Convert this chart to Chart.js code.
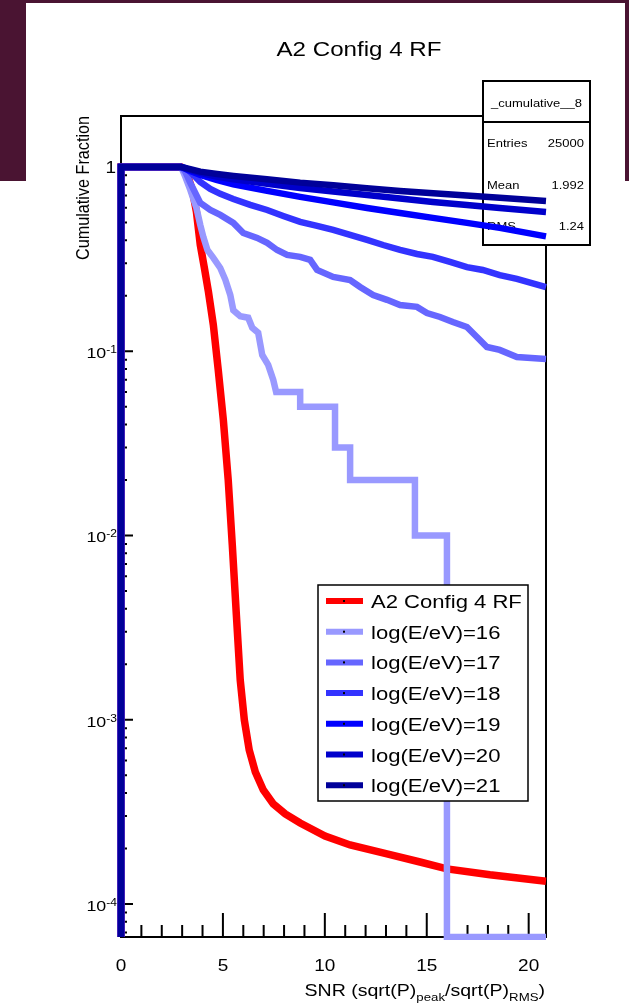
<!DOCTYPE html>
<html>
<head>
<meta charset="utf-8">
<title>A2 Config 4 RF</title>
<script src="https://cdn.jsdelivr.net/npm/chart.js@4.4.1/dist/chart.umd.min.js"></script>
<style>
  html, body { margin: 0; padding: 0; background: #fff; }
  #wrap { position: relative; width: 629px; height: 1006px; }
</style>
</head>
<body>
<div id="wrap"><canvas id="snrChart"></canvas></div>
<script>
// cumulative fraction of events above a given SNR
// (a 0 means an empty bin; it sits on the bottom edge of the log axis)

const snrRF  = [0, 0, 2.95, 3.21, 3.50, 3.70, 3.89, 4.09, 4.29, 4.53, 4.77, 5.02, 5.26, 5.46, 5.66, 5.85, 6.05, 6.29, 6.59, 6.98, 7.47, 8.06, 8.79, 10.01, 11.24, 13.05, 14.67, 15.99, 18.10, 20.85];
const fracRF = [0, 1, 1, 0.939, 0.750, 0.570, 0.377, 0.283, 0.210, 0.1388, 0.0791, 0.0424, 0.0200, 0.00888, 0.00370, 0.00164, 0.000997, 0.000685, 0.000520, 0.000416, 0.000349, 0.000308, 0.000275, 0.000234, 0.000209, 0.000187, 0.000169, 0.000155, 0.000144, 0.000133];

const snr16  = [0, 0, 2.95, 3.16, 3.40, 3.70, 3.89, 4.04, 4.24, 4.53, 4.87, 5.12, 5.36, 5.51, 5.85, 6.24, 6.44, 6.73, 6.93, 7.22, 7.47, 7.61, 8.79, 8.79, 10.50, 10.50, 11.24, 11.24, 14.42, 14.42, 15.99, 15.99, 20.85];
const frac16 = [0, 1, 1, 0.882, 0.750, 0.599, 0.484, 0.417, 0.354, 0.321, 0.283, 0.244, 0.202, 0.167, 0.155, 0.152, 0.134, 0.126, 0.0954, 0.0842, 0.0698, 0.06, 0.06, 0.05, 0.05, 0.03, 0.03, 0.02, 0.02, 0.01, 0.01, 0, 0];

const snr17  = [0, 0, 2.95, 3.16, 3.40, 3.89, 4.38, 4.87, 5.51, 6.00, 6.68, 7.17, 7.66, 8.15, 8.79, 9.28, 9.62, 10.41, 11.24, 11.73, 12.37, 13.05, 13.69, 14.52, 15.01, 15.65, 16.28, 16.97, 17.46, 17.95, 18.58, 19.42, 20.85];
const frac17 = [0, 1, 1, 0.939, 0.819, 0.638, 0.584, 0.549, 0.497, 0.438, 0.412, 0.387, 0.354, 0.333, 0.325, 0.313, 0.276, 0.253, 0.2435, 0.223, 0.202, 0.190, 0.178, 0.174, 0.161, 0.1534, 0.1441, 0.1354, 0.1195, 0.1054, 0.1016, 0.0931, 0.0908];

const snr18  = [0, 0, 2.95, 3.16, 3.40, 3.65, 3.89, 4.38, 4.87, 5.51, 6.34, 7.17, 7.96, 8.79, 9.62, 10.41, 11.24, 12.07, 12.86, 13.69, 14.52, 15.30, 16.14, 16.97, 17.75, 18.58, 19.42, 20.85];
const frac18 = [0, 1, 1, 0.988, 0.939, 0.882, 0.829, 0.760, 0.714, 0.670, 0.622, 0.584, 0.542, 0.503, 0.479, 0.455, 0.428, 0.402, 0.377, 0.355, 0.337, 0.325, 0.305, 0.286, 0.276, 0.259, 0.247, 0.223];

const snr19  = [0, 0, 2.95, 3.40, 3.89, 4.68, 5.51, 7.17, 8.79, 10.41, 12.07, 13.69, 15.30, 16.97, 18.58, 20.85];
const frac19 = [0, 1, 1, 0.951, 0.905, 0.850, 0.804, 0.741, 0.688, 0.642, 0.599, 0.563, 0.529, 0.497, 0.467, 0.420];

const snr20  = [0, 0, 2.95, 3.40, 3.89, 4.68, 5.51, 7.17, 8.79, 10.41, 12.07, 13.69, 15.30, 16.97, 18.58, 20.85];
const frac20 = [0, 1, 1, 0.963, 0.928, 0.888, 0.856, 0.809, 0.769, 0.736, 0.705, 0.675, 0.646, 0.622, 0.599, 0.570];

const snr21  = [0, 0, 2.95, 3.40, 3.89, 4.71, 5.52, 7.16, 8.79, 10.42, 12.06, 13.69, 15.32, 16.95, 18.58, 20.85];
const frac21 = [0, 1, 1, 0.972, 0.943, 0.916, 0.894, 0.858, 0.822, 0.796, 0.766, 0.741, 0.720, 0.699, 0.681, 0.654];

const seriesNames  = ['A2 Config 4 RF', 'log(E/eV)=16', 'log(E/eV)=17', 'log(E/eV)=18', 'log(E/eV)=19', 'log(E/eV)=20', 'log(E/eV)=21'];
const seriesColors = ['#ff0000', '#9999ff', '#6666ff', '#3333ff', '#0000ff', '#0000cc', '#000099'];
const seriesX = [snrRF, snr16, snr17, snr18, snr19, snr20, snr21];
const seriesY = [fracRF, frac16, frac17, frac18, frac19, frac20, frac21];

const xMajorTicks = [0, 5, 10, 15, 20];
const yDecades = [0, -1, -2, -3, -4];

const statsName = '_cumulative__8';
const statsRows = [['Entries', '25000'], ['Mean', '1.992'], ['RMS', '1.24']];

const X_MIN = 0, X_MAX = 20.85;
const Y_MIN = 6.62e-5, Y_MAX = 1.89;

const SX = 1.15; // text is drawn slightly wide
const FONT = '"Liberation Sans", Arial, Helvetica, sans-serif';

function textW(ctx, text, size) {
    ctx.font = size + 'px ' + FONT;
    return ctx.measureText(text).width * SX;
}

function drawText(ctx, text, x, y, size, align) {
    ctx.save();
    ctx.font = size + 'px ' + FONT;
    var w = ctx.measureText(text).width * SX;
    var left = x;
    if (align === 'right') left = x - w;
    if (align === 'center') left = x - w / 2;
    ctx.translate(left, y);
    ctx.scale(SX, 1);
    ctx.textAlign = 'left';
    ctx.textBaseline = 'alphabetic';
    ctx.fillStyle = '#000';
    ctx.fillText(text, 0, 0);
    ctx.restore();
    return w;
}

function toPoints(xs, ys) {
    // empty bins go to the floor of the log axis
    return xs.map((x, i) => ({ x: x, y: ys[i] > 0 ? ys[i] : Y_MIN }));
}

var datasets = [];
for (var i = 0; i < seriesNames.length; i++) {
    datasets.push({
        label: seriesNames[i],
        data: toPoints(seriesX[i], seriesY[i]),
        borderColor: seriesColors[i],
        backgroundColor: seriesColors[i],
        borderWidth: i === 0 ? 7.5 : 6.5,
        borderJoinStyle: 'miter',
        borderCapStyle: 'butt',
        pointRadius: 0,
        tension: 0,
        fill: false,
        order: seriesNames.length - i,
        clip: { left: 5, top: 5, right: 1, bottom: 3 }
    });
}

// page background, frame, ticks, labels, stats box
const frameDecor = {
    id: 'frameDecor',
    beforeDraw(chart) {
        const ctx = chart.ctx;
        ctx.save();
        ctx.fillStyle = '#ffffff';
        ctx.fillRect(0, 0, chart.width, chart.height);
        ctx.fillStyle = '#4a1432';
        ctx.fillRect(0, 0, chart.width, 3);
        ctx.fillRect(0, 0, 26, 181);
        ctx.fillRect(625, 0, chart.width - 625, 181);
        ctx.restore();
    },
    beforeDatasetsDraw(chart) {
        const ctx = chart.ctx;
        const ca = chart.chartArea;
        const xs = chart.scales.x, ys = chart.scales.y;
        ctx.save();

        // title
        drawText(ctx, 'A2 Config 4 RF', 359, 56, 21, 'center');

        // frame
        ctx.strokeStyle = '#000';
        ctx.lineWidth = 2;
        ctx.strokeRect(ca.left, ca.top, ca.right - ca.left, ca.bottom - ca.top);

        // x ticks, pointing up into the frame
        ctx.beginPath();
        for (var v = 0; v <= Math.floor(X_MAX); v++) {
            var px = xs.getPixelForValue(v);
            var len = (v % 5 === 0) ? 24 : 12;
            ctx.moveTo(px, ca.bottom);
            ctx.lineTo(px, ca.bottom - len);
        }
        // y ticks, pointing right into the frame
        for (var d = -5; d <= 0; d++) {
            for (var k = 1; k <= 9; k++) {
                var val = k * Math.pow(10, d);
                if (val < Y_MIN || val > Y_MAX) continue;
                var py = ys.getPixelForValue(val);
                ctx.moveTo(ca.left, py);
                ctx.lineTo(ca.left + (k === 1 ? 12 : 6), py);
            }
        }
        ctx.stroke();

        // x tick labels
        xMajorTicks.forEach(function (t) {
            drawText(ctx, String(t), xs.getPixelForValue(t), 971, 16.5, 'center');
        });

        // y tick labels as powers of ten
        yDecades.forEach(function (e) {
            var py = ys.getPixelForValue(Math.pow(10, e));
            if (e === 0) {
                drawText(ctx, '1', 116, py + 6, 16.5, 'right');
            } else {
                var sw = drawText(ctx, String(e), 117, py + 2, 10.5, 'right');
                drawText(ctx, '10', 117 - sw, py + 7, 15.5, 'right');
            }
        });

        // x axis title with subscripts
        var parts = [['SNR (sqrt(P)', 17, 0], ['peak', 11.5, 5], ['/sqrt(P)', 17, 0], ['RMS', 11.5, 5], [')', 17, 0]];
        var total = 0;
        parts.forEach(function (p) { total += textW(ctx, p[0], p[1]); });
        var cx = 545 - total;
        parts.forEach(function (p) {
            cx += drawText(ctx, p[0], cx, 996 + p[2], p[1], 'left');
        });

        // y axis title, rotated
        ctx.save();
        ctx.translate(89, 116);
        ctx.rotate(-Math.PI / 2);
        ctx.scale(1, SX);
        ctx.font = '16.2px ' + FONT;
        ctx.textAlign = 'right';
        ctx.textBaseline = 'alphabetic';
        ctx.fillStyle = '#000';
        ctx.fillText('Cumulative Fraction', 0, 0);
        ctx.restore();

        // stats box
        ctx.fillStyle = '#fff';
        ctx.fillRect(483, 81, 107, 164);
        ctx.strokeStyle = '#000';
        ctx.lineWidth = 2;
        ctx.strokeRect(483, 81, 107, 164);
        ctx.beginPath();
        ctx.moveTo(483, 122);
        ctx.lineTo(590, 122);
        ctx.stroke();
        drawText(ctx, statsName, 536.5, 107, 11.3, 'center');
        statsRows.forEach(function (row, r) {
            var by = 147 + r * 41.5;
            drawText(ctx, row[0], 487, by, 11.3, 'left');
            drawText(ctx, row[1], 584, by, 11.3, 'right');
        });

        ctx.restore();
    },
    afterDatasetsDraw(chart) {
        // legend box
        const ctx = chart.ctx;
        ctx.save();
        ctx.fillStyle = '#fff';
        ctx.fillRect(318, 585, 210, 216);
        ctx.strokeStyle = '#000';
        ctx.lineWidth = 1.5;
        ctx.strokeRect(318, 585, 210, 216);
        seriesNames.forEach(function (name, i) {
            var cy = 601 + i * 30.7;
            ctx.strokeStyle = seriesColors[i];
            ctx.lineWidth = 6;
            ctx.beginPath();
            ctx.moveTo(326, cy);
            ctx.lineTo(363, cy);
            ctx.stroke();
            ctx.fillStyle = '#000';
            ctx.fillRect(343, cy - 1, 2, 2);
            drawText(ctx, name, 371, cy + 7, 19.2, 'left');
        });
        ctx.restore();
    }
};

var ctx = document.getElementById('snrChart');

var config = {
    type: 'line',
    data: { datasets: datasets },
    options: {
        responsive: true,
        maintainAspectRatio: false,
        animation: false,
        events: [],
        layout: {
            padding: { left: 121, right: 83, top: 116, bottom: 69 }
        },
        plugins: {
            legend: { display: false },
            tooltip: { enabled: false },
            title: { display: false }
        },
        scales: {
            x: {
                type: 'linear',
                min: X_MIN,
                max: X_MAX,
                display: false
            },
            y: {
                type: 'logarithmic',
                min: Y_MIN,
                max: Y_MAX,
                display: false
            }
        }
    },
    plugins: [frameDecor]
};

new Chart(ctx, config);
</script>
</body>
</html>
